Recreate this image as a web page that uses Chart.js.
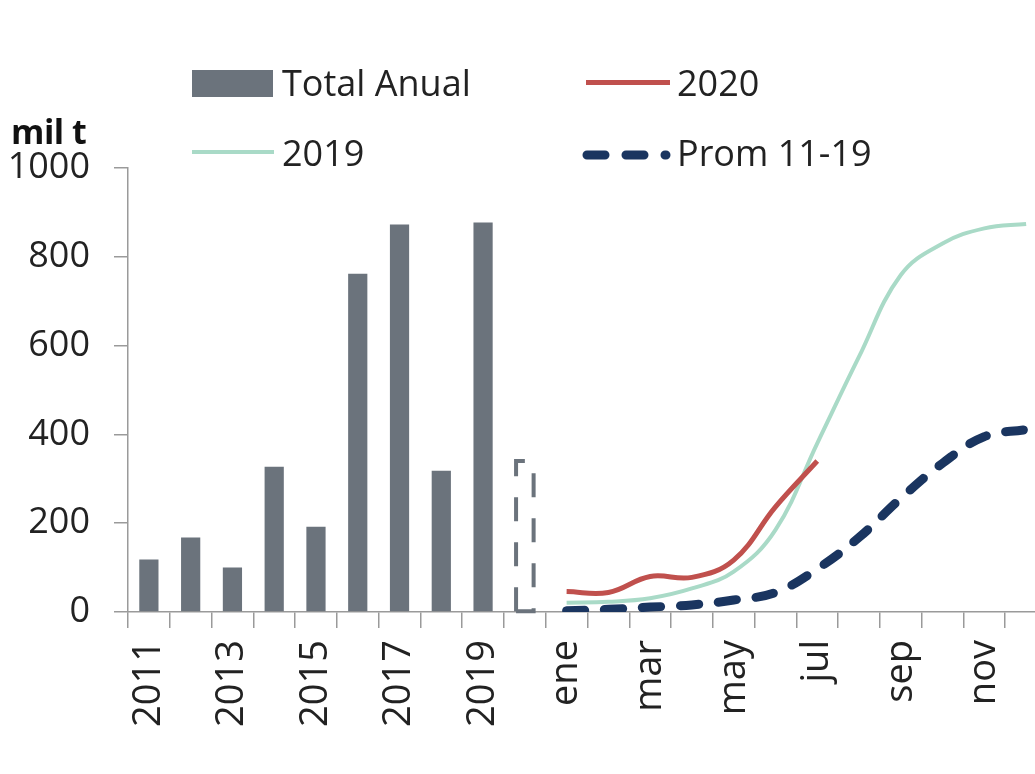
<!DOCTYPE html>
<html>
<head>
<meta charset="utf-8">
<script src="https://cdn.jsdelivr.net/npm/chart.js@4.4.1/dist/chart.umd.min.js"></script>
<style>
  html, body { margin:0; padding:0; background:#fff; overflow:hidden; width:1035px; height:774px; }
  #wrap { position:absolute; left:0; top:0; width:1047px; height:774px; }
  .t { position:absolute; font-family:"Open Sans", sans-serif; color:#222; line-height:1; white-space:nowrap; }
  .sw { position:absolute; }
</style>
</head>
<body>
<div id="wrap"><canvas id="c" width="1047" height="774"></canvas></div>

<div class="t" style="left:11px; top:114px; font-size:34px; font-weight:700; letter-spacing:-0.5px; color:#111;">mil t</div>

<div class="sw" style="left:192px; top:70px; width:81px; height:27px; background:#6b737c;"></div>
<div class="t" style="left:282px; top:65px; font-size:36px;">Total Anual</div>

<div class="sw" style="left:586px; top:80px; width:84px; height:5px; background:#c0504d;"></div>
<div class="t" style="left:677px; top:65px; font-size:36px;">2020</div>

<div class="sw" style="left:192px; top:150px; width:82px; height:4px; background:#a9dac7;"></div>
<div class="t" style="left:282px; top:135px; font-size:36px;">2019</div>

<svg class="sw" style="left:578px; top:145px;" width="100" height="20">
  <line x1="9" y1="10" x2="88" y2="10" stroke="#1a3560" stroke-width="9" stroke-linecap="round" stroke-dasharray="18 21"/>
</svg>
<div class="t" style="left:677px; top:135px; font-size:36px;">Prom 11-19</div>

<script>
// ---- data ----
const yearLabels = ['2011','2012','2013','2014','2015','2016','2017','2018','2019','2020'];
const monthLabels = ['ene','feb','mar','abr','may','jun','jul','ago','sep','oct','nov','dic'];
const annualTotals = [118, 168, 100, 327, 192, 762, 873, 318, 877]; // 2011-2019
const total2020 = 340;                                              // 2020 (partial, dashed)
const cum2020 = [46, 44, 80, 78, 117, 237, 340];                    // ene-jul
const cum2019 = [21, 23, 31, 53, 91, 185, 380, 575, 759, 830, 864, 874];
const prom1119 = [3, 6, 11, 16, 27, 44, 97, 168, 256, 335, 395, 411];
const yTicks = [0, 200, 400, 600, 800, 1000];

// ---- build ----
const categories = yearLabels.concat(monthLabels);
const nY = yearLabels.length;
const pad = (n) => Array(n).fill(null);
const barData = annualTotals.concat(pad(categories.length - annualTotals.length));
const bar2020Data = pad(nY - 1).concat([total2020]).concat(pad(monthLabels.length));
const monthly = (arr) => pad(nY).concat(arr).concat(pad(monthLabels.length - arr.length));

const dashedBar = {
  id: 'dashedBar',
  afterDatasetsDraw(chart) {
    const meta = chart.getDatasetMeta(1);
    const ctx = chart.ctx;
    meta.data.forEach((el, i) => {
      if (chart.data.datasets[1].data[i] == null) return;
      const p = el.getProps(['x', 'y', 'base', 'width'], true);
      ctx.save();
      ctx.setLineDash([24, 21]);
      ctx.lineWidth = 4;
      ctx.strokeStyle = '#6b737c';
      ctx.beginPath();
      ctx.moveTo(p.x - p.width / 2, p.base);
      ctx.lineTo(p.x - p.width / 2, p.y);
      ctx.lineTo(p.x + p.width / 2, p.y);
      ctx.lineTo(p.x + p.width / 2, p.base);
      ctx.lineTo(p.x - p.width / 2, p.base);
      ctx.stroke();
      ctx.restore();
    });
  }
};

new Chart(document.getElementById('c'), {
  type: 'bar',
  data: {
    labels: categories,
    datasets: [
      { type:'bar', label:'Total Anual', data: barData, backgroundColor:'#6b737c', grouped:false,
        barPercentage:0.46, categoryPercentage:1, order:5 },
      { type:'bar', label:'2020 parcial', data: bar2020Data, backgroundColor:'rgba(0,0,0,0)', grouped:false,
        barPercentage:0.42, categoryPercentage:1, order:6 },
      { type:'line', label:'2019', data: monthly(cum2019), borderColor:'#a9dac7', borderWidth:4,
        pointRadius:0, tension:0.4, order:3 },
      { type:'line', label:'2020', data: monthly(cum2020), borderColor:'#c0504d', borderWidth:5,
        pointRadius:0, tension:0.4, order:2 },
      { type:'line', label:'Prom 11-19', data: monthly(prom1119), borderColor:'#1a3560', borderWidth:9,
        borderDash:[18, 20], borderCapStyle:'round', pointRadius:0, tension:0.4, order:1 }
    ]
  },
  options: {
    responsive:false,
    animation:false,
    devicePixelRatio:1,
    layout:{ padding:{ top:168, left:0, right:0, bottom:0 } },
    plugins:{ legend:{ display:false }, tooltip:{ enabled:false } },
    scales:{
      x:{
        offset:true,
        grid:{ offset:true, drawOnChartArea:false, drawTicks:true, tickLength:16, color:'#9a9a9a', lineWidth:1.5 },
        border:{ display:true, color:'#9a9a9a', width:1.5 },
        ticks:{ autoSkip:false, minRotation:90, maxRotation:90, padding:12, color:'#222',
          font:{ family:'"Open Sans", sans-serif', size:38 },
          callback:function(v, i){ return i % 2 === 0 ? this.getLabelForValue(v) : ''; } },
        afterFit:(s)=>{ s.height = 162; s.paddingLeft = 0; s.paddingRight = 0; }
      },
      y:{
        min:0, max:1000,
        afterBuildTicks:(s)=>{ s.ticks = yTicks.map(v=>({value:v})); },
        grid:{ drawOnChartArea:false, drawTicks:true, tickLength:14, color:'#9a9a9a', lineWidth:1.5 },
        border:{ display:true, color:'#9a9a9a', width:1.5 },
        ticks:{ padding:24, color:'#222', font:{ family:'"Open Sans", sans-serif', size:36 },
          callback:(v)=>String(v) },
        afterFit:(s)=>{ s.width = 128; s.paddingTop = 0; s.paddingBottom = 0; }
      }
    }
  },
  plugins:[dashedBar]
});
</script>
</body>
</html>
